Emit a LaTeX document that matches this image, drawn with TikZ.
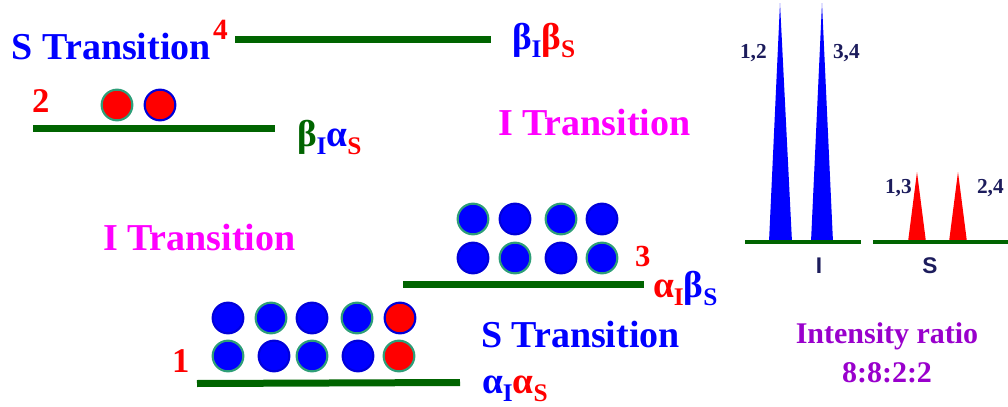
\documentclass[tikz,border=0pt]{standalone}
\usepackage{fontspec}
\setmainfont{Liberation Serif}
\newfontfamily\sansbold{Liberation Sans}
\definecolor{lvgreen}{HTML}{006400}
\definecolor{ringteal}{HTML}{2E9E78}
\definecolor{navytxt}{HTML}{1C1C5C}
\definecolor{ratiopurple}{HTML}{9900CC}
\definecolor{pmagenta}{HTML}{FF00FF}
\definecolor{pblue}{HTML}{0000FF}
\definecolor{pred}{HTML}{FF0000}
\newcommand{\lsub}[2]{\raisebox{-6pt}{\fontsize{19}{19}\selectfont\color{#1}#2}}
\begin{document}
\begin{tikzpicture}[x=0.75pt,y=-0.75pt,
  every node/.style={inner sep=0pt,outer sep=0pt},
  big/.style={font=\fontsize{28.5}{30}\selectfont\bfseries},
  lab/.style={anchor=base west,font=\fontsize{28}{30}\selectfont\bfseries},
  num/.style={anchor=base west,text=pred,font=\bfseries},
  level/.style={draw=lvgreen,line width=5.25pt},
  ball/.style={circle,minimum size=23pt,line width=1.6pt},
  bb/.style={ball,fill=pblue,draw=pblue!85!black},
  bt/.style={ball,fill=pblue,draw=ringteal},
  rb/.style={ball,fill=pred,draw=pblue!85!black},
  rt/.style={ball,fill=pred,draw=ringteal},
  base/.style={draw=lvgreen,line width=3pt},
  plab/.style={anchor=base west,text=navytxt,font=\fontsize{16}{18}\selectfont\bfseries},
  axlab/.style={anchor=base,text=navytxt,font=\sansbold\fontsize{17}{18}\selectfont\bfseries},
]
\useasboundingbox (0,0) rectangle (1008,407);

% level 4 (top)
\node[big,anchor=base west,text=pblue] (st1) at (12,59) {S Transition};
\node[num,font=\fontsize{22}{24}\selectfont\bfseries] (n4) at (213,39) {4};
\coordinate (l4a) at (235,39.5); \coordinate (l4b) at (491,39.5);
\draw[level] (l4a) -- (l4b);
\node[lab] (s4) at (512,49) {\color{pblue}β\lsub{pblue}{I}\color{pred}β\lsub{pred}{S}};

% level 2
\node[num,font=\fontsize{26}{28}\selectfont\bfseries] (n2) at (32,112) {2};
\node[rt] (c21) at (117,105) {};
\node[rb] (c22) at (160,105) {};
\coordinate (l2a) at (33,128); \coordinate (l2b) at (275,128);
\draw[level] (l2a) -- (l2b);
\node[lab] (s2) at (297,146) {\color{lvgreen}β\lsub{pblue}{I}\color{pblue}α\lsub{pred}{S}};

\node[big,anchor=base west,text=pmagenta] (it1) at (498,135) {I Transition};
\node[big,anchor=base west,text=pmagenta] (it2) at (103,250) {I Transition};

% level 3
\node[bt] (c31) at (473,219) {};
\node[bb] (c32) at (515,219) {};
\node[bt] (c33) at (561,219) {};
\node[bb] (c34) at (602,219) {};
\node[bb] (c35) at (473,258) {};
\node[bt] (c36) at (515,258) {};
\node[bb] (c37) at (561,258) {};
\node[bt] (c38) at (602,258) {};
\node[num,font=\fontsize{23}{24}\selectfont\bfseries] (n3) at (635,266) {3};
\coordinate (l3a) at (403,284); \coordinate (l3b) at (644,284);
\draw[level] (l3a) -- (l3b);
\node[lab] (s3) at (653,297) {\color{pred}α\lsub{pred}{I}\color{pblue}β\lsub{pblue}{S}};

\node[big,anchor=base west,text=pblue] (st2) at (481,347) {S Transition};

% level 1
\node[bb] (c11) at (228,318) {};
\node[bt] (c12) at (271,318) {};
\node[bb] (c13) at (312,318) {};
\node[bt] (c14) at (357,318) {};
\node[rb] (c15) at (400,318) {};
\node[bt] (c16) at (228,356) {};
\node[bb] (c17) at (274,356) {};
\node[bt] (c18) at (312,356) {};
\node[bb] (c19) at (358,356) {};
\node[rt] (c10) at (399,356) {};
\node[num,font=\fontsize{26}{28}\selectfont\bfseries] (n1) at (172,372) {1};
\coordinate (l1a) at (197,383.5); \coordinate (l1b) at (460,382.5);
\draw[level] (l1a) -- (l1b);
\node[lab] (s1) at (482,393) {\color{pblue}α\lsub{pblue}{I}\color{pred}α\lsub{pred}{S}};

% spectrum
\coordinate (bIa) at (745,242); \coordinate (bIb) at (861,242);
\coordinate (bSa) at (873,242); \coordinate (bSb) at (1008,242);
\fill[pblue] (769,242) -- (780,3) -- (792,242) -- cycle;
\fill[pblue] (811,242) -- (822,3) -- (833,242) -- cycle;
\fill[pred] (908,242) -- (917,172) -- (926,242) -- cycle;
\fill[pred] (949,242) -- (958,172) -- (967,242) -- cycle;
\draw[base] (bIa) -- (bIb);
\draw[base] (bSa) -- (bSb);
\node[plab] (p12) at (740,58) {1,2};
\node[plab] (p34) at (833,58) {3,4};
\node[plab] (p13) at (885,193) {1,3};
\node[plab] (p24) at (977,193) {2,4};
\node[axlab] (lI) at (819,273) {I};
\node[axlab] (lS) at (930,273) {S};
\node[anchor=base,text=ratiopurple,font=\fontsize{22.5}{24}\selectfont\bfseries] (r1) at (887,343) {Intensity ratio};
\node[anchor=base,text=ratiopurple,font=\fontsize{22.5}{24}\selectfont\bfseries] (r2) at (887,382) {8:8:2:2};
\end{tikzpicture}
\end{document}
